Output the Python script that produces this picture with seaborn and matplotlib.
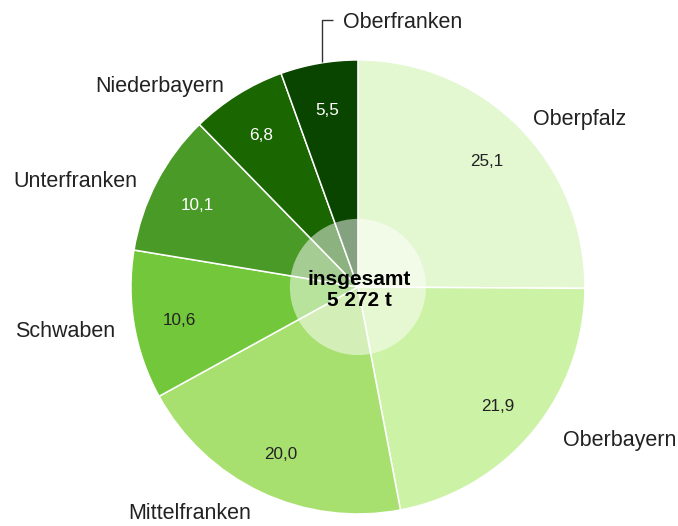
import matplotlib
matplotlib.use("Agg")
import matplotlib.pyplot as plt
import seaborn as sns

# Anteile der Regierungsbezirke (%), im Uhrzeigersinn ab 12 Uhr
bezirke = ["Oberpfalz", "Oberbayern", "Mittelfranken", "Schwaben",
           "Unterfranken", "Niederbayern", "Oberfranken"]
anteile = [25.1, 21.9, 20.0, 10.6, 10.1, 6.8, 5.5]
farben = ["#e3f7d0", "#ccf2a5", "#a8e070", "#72c83a",
          "#4a9a28", "#1a6600", "#0a4500"]
wert_farben = ["#222222", "#222222", "#222222", "#222222",
               "white", "white", "white"]
gesamt = "insgesamt\n5 272 t"

sns.set_theme(style="white")
plt.rcParams["font.family"] = ["Liberation Sans", "DejaVu Sans"]

fig = plt.figure(figsize=(6.78, 5.26), dpi=100)
ax = fig.add_axes([0, 0, 1, 1])

wedges, _, autotexts = ax.pie(
    anteile, colors=farben, startangle=90, counterclock=False,
    radius=1.0, pctdistance=0.8,
    autopct=lambda p: f"{p:.1f}".replace(".", ","),
    wedgeprops=dict(edgecolor="white", linewidth=1.1),
    textprops=dict(fontsize=12.3),
)
dy = 0.013  # kleine Korrektur für die optische Mitte der Schrift
for t, c in zip(autotexts, wert_farben):
    t.set_color(c)
    x, y = t.get_position()
    t.set_position((x, y - dy))

# halbtransparenter Kreis in der Mitte
ax.add_patch(plt.Circle((0, 0), 0.30, color="white", alpha=0.5, lw=0))
ax.text(0.005, -0.012, gesamt, ha="center", va="center", fontsize=15,
        fontweight="bold", linespacing=1.12, color="black")

# Beschriftungen außen
label_pos = {
    "Oberpfalz": (0.978, 0.736),
    "Oberbayern": (1.154, -0.678),
    "Mittelfranken": (-0.740, -1.000),
    "Schwaben": (-1.291, -0.198),
    "Unterfranken": (-1.247, 0.463),
    "Niederbayern": (-0.872, 0.881),
    "Oberfranken": (0.198, 1.165),
}
for name in bezirke:
    x, y = label_pos[name]
    ax.text(x, y, name, ha="center", va="center", fontsize=15.5,
            color="#222222")

# Führungslinie für Oberfranken
ax.plot([-0.159, -0.159, -0.110], [0.991, 1.178, 1.178],
        color="#333333", lw=1.0, solid_capstyle="butt")

ax.set_xlim(-1.577, 1.410)
ax.set_ylim(-1.053, 1.264)
ax.set_aspect("auto")
ax.axis("off")

fig.savefig("out.png", dpi=100)
